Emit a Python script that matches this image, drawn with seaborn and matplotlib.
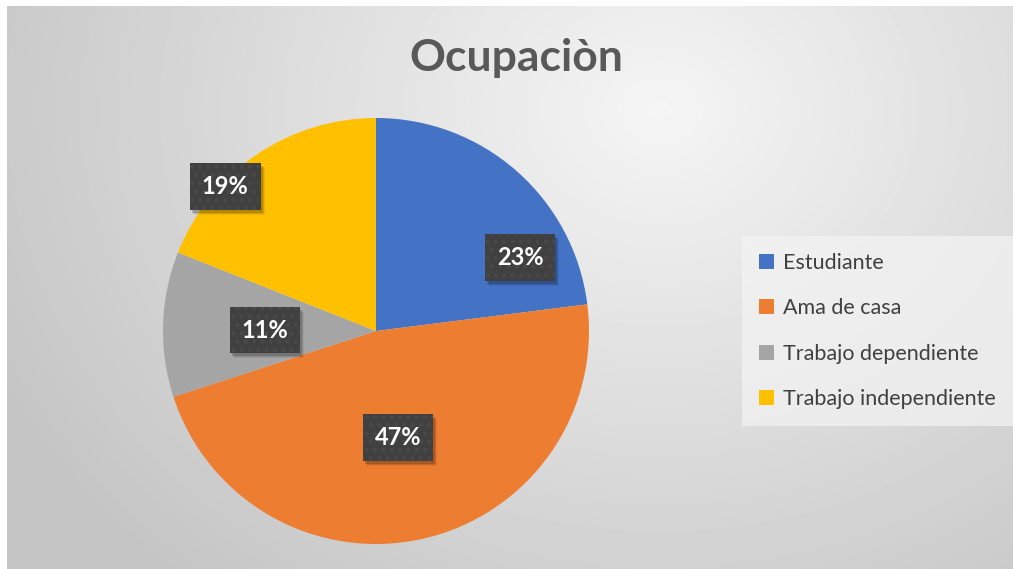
import numpy as np
import matplotlib.pyplot as plt
import matplotlib.transforms as mtransforms
from matplotlib.patches import Patch, Rectangle
import seaborn as sns

# Data
categories = ['Estudiante', 'Ama de casa', 'Trabajo dependiente', 'Trabajo independiente']
shares = [23, 47, 11, 19]
colors = ['#4472C4', '#ED7D31', '#A5A5A5', '#FFC000']

sns.set_theme(style='white')
plt.rcParams['font.family'] = ['Lato', 'DejaVu Sans']
plt.rcParams['hatch.linewidth'] = 1.6

W, H = 1013, 569
fig = plt.figure(figsize=(W / 100, H / 100), dpi=100)
fig.patch.set_facecolor('white')

# radial grey background of the chart area
bg = fig.add_axes([0, 0, 1, 1])
bg.set_xlim(0, W)
bg.set_ylim(H, 0)
bg.axis('off')
xx, yy = np.meshgrid(np.arange(7, W), np.arange(6, H))
d = np.sqrt(((xx - 660) / 620) ** 2 + ((yy - 110) / 520) ** 2)
shade = 0.96 - 0.19 * np.clip(d, 0, 1.2) / 1.2
bg.imshow(shade, cmap='gray', vmin=0, vmax=1, extent=(7, W, H, 6),
          aspect='auto', interpolation='bilinear')

# pie
r = 213
cx, cy = 376, 331
ax = fig.add_axes([(cx - r) / W, (H - cy - r) / H, 2 * r / W, 2 * r / H])
ax.set_facecolor('none')
wedges, _ = ax.pie(shares, colors=colors, startangle=90, counterclock=False,
                   radius=1, wedgeprops=dict(linewidth=0))
ax.set_xlim(-1, 1)
ax.set_ylim(-1, 1)
ax.axis('off')

# data labels (Excel best-fit placement)
label_angle = [26.9, -78.3, 179.5, 136.2]
label_dist = [0.76, 0.51, 0.52, 0.98]
labels = []
for val, a, dist in zip(shares, label_angle, label_dist):
    t = np.deg2rad(a)
    txt = ax.text(dist * np.cos(t), dist * np.sin(t), f'{val}%', ha='center', va='center',
                  fontsize=17, fontweight='bold', color='white', zorder=10,
                  bbox=dict(boxstyle='square,pad=0.5', linewidth=0, facecolor='#404040',
                            edgecolor='#494949', hatch='..'))
    labels.append(txt)

# soft shadows behind the label boxes
fig.canvas.draw()
for txt in labels:
    ext = txt.get_bbox_patch().get_window_extent()
    for k, al in [(5, 0.06), (4, 0.1), (3, 0.16)]:
        shadow = Rectangle((ext.x0 + k - 1, ext.y0 - k), ext.width, ext.height,
                           transform=mtransforms.IdentityTransform(), facecolor='black',
                           alpha=al, linewidth=0, zorder=4, clip_on=False)
        ax.add_artist(shadow)

# title
fig.text(516 / W, 1 - 58 / H, 'Ocupaciòn', ha='center', va='center',
         fontsize=32, fontweight='bold', color='#595959')

# legend
handles = [Patch(facecolor=c, edgecolor='none') for c in colors]
leg = fig.legend(handles, categories, loc='center left',
                 bbox_to_anchor=(742 / W, 1 - 331 / H), fontsize=15.5,
                 frameon=True, handlelength=0.72, handleheight=0.72,
                 handletextpad=0.42, labelspacing=1.18, borderpad=0.78,
                 borderaxespad=0)
leg.get_frame().set_facecolor('#f4f4f4')
leg.get_frame().set_alpha(0.7)
leg.get_frame().set_edgecolor('none')
leg.get_frame().set_boxstyle('square', pad=0)
for text in leg.get_texts():
    text.set_color('#404040')

fig.savefig('out.png', dpi=100)
